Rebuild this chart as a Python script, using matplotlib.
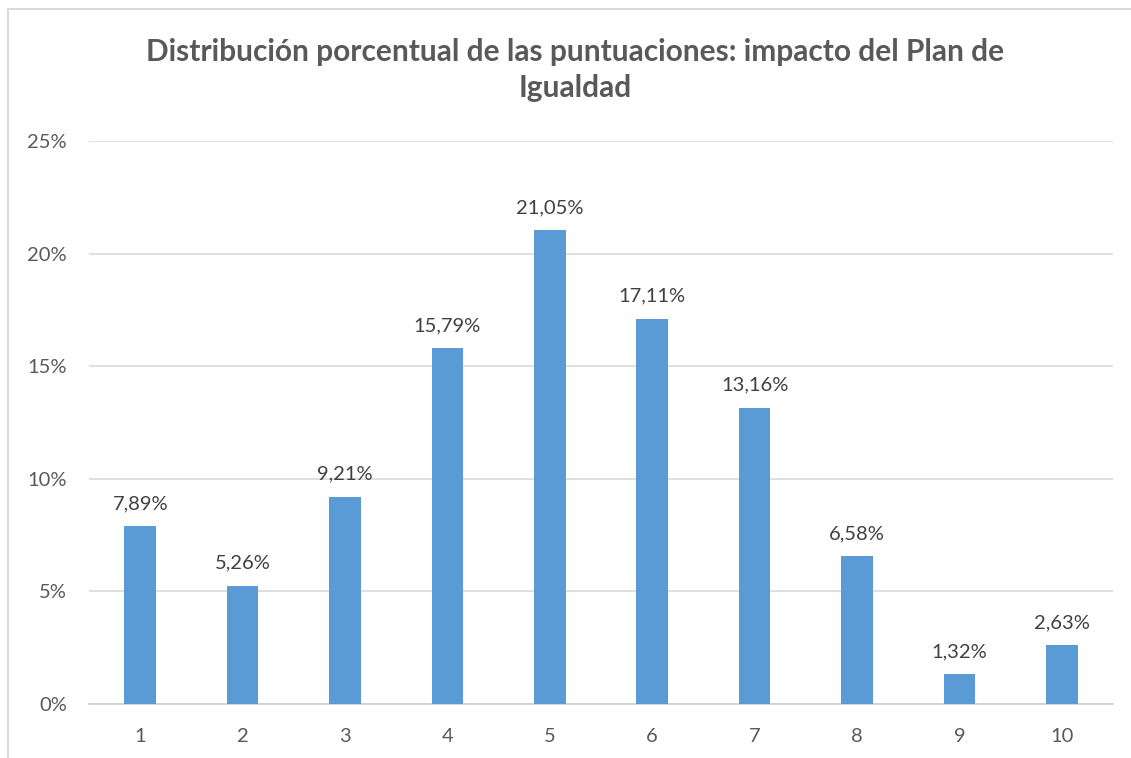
import matplotlib.pyplot as plt
from matplotlib.patches import Rectangle

categories = ["1", "2", "3", "4", "5", "6", "7", "8", "9", "10"]
values = [7.89, 5.26, 9.21, 15.79, 21.05, 17.11, 13.16, 6.58, 1.32, 2.63]
labels = ["7,89%", "5,26%", "9,21%", "15,79%", "21,05%", "17,11%", "13,16%", "6,58%", "1,32%", "2,63%"]
yticks = [0, 5, 10, 15, 20, 25]

plt.rcParams['font.family'] = ['Lato', 'DejaVu Sans']
grey = '#595959'

fig = plt.figure(figsize=(11.31, 7.58), dpi=100)
ax = fig.add_axes([89 / 1131, 54 / 758, 1024 / 1131, 563 / 758])

x = list(range(1, len(categories) + 1))
ax.bar(x, values, width=0.31, color='#5b9bd5', zorder=3)
for xi, v, lab in zip(x, values, labels):
    ax.annotate(lab, (xi, v), xytext=(0, 10), textcoords='offset points',
                ha='center', va='bottom', fontsize=14.5, color='#404040')

ax.set_xlim(0.5, 10.5)
ax.set_ylim(0, 25)
ax.set_yticks(yticks)
ax.set_yticklabels([f"{t}%" for t in yticks])
ax.set_xticks(x)
ax.set_xticklabels(categories)
ax.tick_params(axis='both', length=0, labelsize=14.5, labelcolor=grey)
ax.tick_params(axis='y', pad=16)
ax.tick_params(axis='x', pad=17)
ax.grid(axis='y', color='#d9d9d9', linewidth=1.2, zorder=0)
for s in ['top', 'right', 'left']:
    ax.spines[s].set_visible(False)
ax.spines['bottom'].set_color('#d0d0d0')
ax.spines['bottom'].set_linewidth(1.2)

fig.text(575 / 1131, 1 - 70 / 758, "Distribución porcentual de las puntuaciones: impacto del Plan de\nIgualdad",
         ha='center', va='center', fontsize=21.5, fontweight='bold', color=grey, linespacing=1.35)

fig.patches.append(Rectangle((8 / 1131, -0.01), 1.02, 1 - 9 / 758 + 0.01, transform=fig.transFigure,
                             fill=False, edgecolor='#d9d9d9', linewidth=1.5))

fig.savefig('out.png', dpi=100)
